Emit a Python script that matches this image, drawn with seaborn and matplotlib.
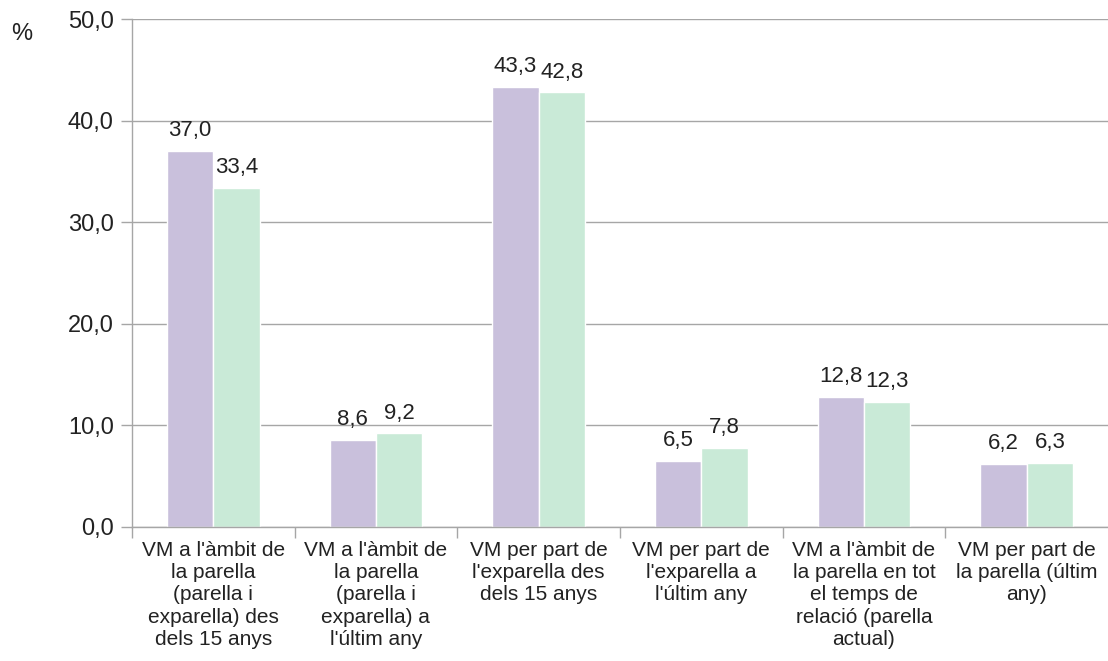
import matplotlib
matplotlib.use("Agg")
import matplotlib.pyplot as plt
import seaborn as sns
import pandas as pd
from matplotlib.ticker import FixedLocator, FuncFormatter

categories = [
    "VM a l'àmbit de\nla parella\n(parella i\nexparella) des\ndels 15 anys",
    "VM a l'àmbit de\nla parella\n(parella i\nexparella) a\nl'últim any",
    "VM per part de\nl'exparella des\ndels 15 anys",
    "VM per part de\nl'exparella a\nl'últim any",
    "VM a l'àmbit de\nla parella en tot\nel temps de\nrelació (parella\nactual)",
    "VM per part de\nla parella (últim\nany)",
]
series_names = ["Sèrie 1", "Sèrie 2"]
values_1 = [37.0, 8.6, 43.3, 6.5, 12.8, 6.2]
values_2 = [33.4, 9.2, 42.8, 7.8, 12.3, 6.3]
colors = ["#C9C0DC", "#C9EAD7"]

df = pd.DataFrame({
    "cat": categories * 2,
    "serie": [series_names[0]] * 6 + [series_names[1]] * 6,
    "val": values_1 + values_2,
})

sns.set_style("white")
plt.rcParams["font.family"] = ["Liberation Sans", "DejaVu Sans"]

fig = plt.figure(figsize=(11.08, 6.61), dpi=100)
ax = fig.add_axes([0.119, 0.203, 0.881, 0.768])

sns.barplot(data=df, x="cat", y="val", hue="serie", palette=colors,
            width=0.57, saturation=1, ax=ax, legend=False)

for cont in ax.containers:
    labs = [f"{b.get_height():.1f}".replace(".", ",") for b in cont]
    ax.bar_label(cont, labels=labs, padding=7, fontsize=16, color="#222222")

ax.set_ylim(0, 50)
ax.set_xlim(-0.5, 5.5)
ax.set_yticks(range(0, 51, 10))
ax.yaxis.set_major_formatter(FuncFormatter(lambda v, p: f"{v:.1f}".replace(".", ",")))
ax.yaxis.grid(True, color="#A6A6A6", linewidth=1)
ax.set_axisbelow(True)
ax.tick_params(axis="y", labelsize=17, length=8, width=1, color="#A6A6A6",
               left=True, pad=5, labelcolor="#222222")
ax.tick_params(axis="x", which="major", length=0, labelsize=15, pad=10,
               labelcolor="#222222")
for t in ax.get_xticklabels():
    t.set_linespacing(1.22)
ax.xaxis.set_minor_locator(FixedLocator([-0.5, 0.5, 1.5, 2.5, 3.5, 4.5]))
ax.tick_params(axis="x", which="minor", length=8, width=1, color="#A6A6A6",
               bottom=True)
ax.set_xlabel("")
ax.set_ylabel("")
for s in ["top", "right"]:
    ax.spines[s].set_visible(False)
for s in ["left", "bottom"]:
    ax.spines[s].set_color("#A6A6A6")
    ax.spines[s].set_linewidth(1)

fig.text(0.01, 0.948, "%", fontsize=17, color="#222222", va="center")

fig.savefig("out.png", dpi=100)
